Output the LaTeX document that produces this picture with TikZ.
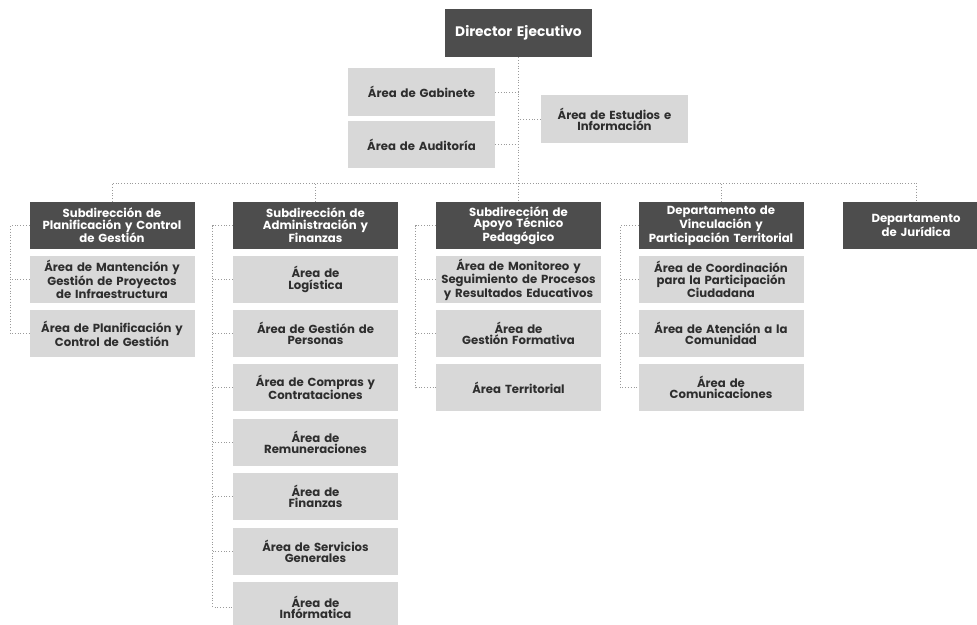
\documentclass[tikz,border=0pt]{standalone}
\usepackage{fontspec}
\setmainfont{Poppins}
\usetikzlibrary{calc}
\definecolor{darkbox}{HTML}{4D4D4D}
\definecolor{lightbox}{HTML}{D8D8D8}
\definecolor{boxtext}{HTML}{2E2E2E}
\definecolor{linecol}{HTML}{9A9A9A}
\tikzset{
  base/.style={rectangle, inner xsep=3pt, inner ysep=0pt, align=center, text width=159pt, minimum height=47pt, font=\bfseries\fontsize{11.7}{11.3}\selectfont},
  hdr/.style={base, fill=darkbox, text=white},
  area/.style={base, fill=lightbox, text=boxtext},
  conn/.style={draw=linecol, line width=0.8pt, dotted},
}
\begin{document}
\begin{tikzpicture}[x=1pt,y=-1pt]
\useasboundingbox (0,0) rectangle (977,624);
\clip (0,0) rectangle (977,624);
% top
\node[hdr, text width=141pt, minimum height=48pt, font=\bfseries\fontsize{13.8}{15}\selectfont] (dir) at (518.5,33) {Director Ejecutivo};
\node[area, text width=141pt, minimum height=48pt] (gab) at (421.5,92) {Área de Gabinete};
\node[area, text width=141pt, minimum height=47pt] (aud) at (421.5,144.5) {Área de Auditoría};
\node[area, text width=141pt, minimum height=48pt] (est) at (614.5,119) {Área de Estudios e\\Información};
% headers
\node[hdr] (h1) at (112,225.5) {Subdirección de\\Planificación y Control\\de Gestión};
\node[hdr] (h2) at (315.5,225.5) {Subdirección de\\Administración y\\Finanzas};
\node[hdr] (h3) at (518.5,225.5) {Subdirección de\\Apoyo Técnico\\Pedagógico};
\node[hdr] (h4) at (721,225.5) {Departamento de\\Vinculación y\\Participación Territorial};
\node[hdr, text width=140pt] (h5) at (916,225.5) {Departamento\\de Jurídica};
% column 1
\node[area] (a11) at (112,279.5) {Área de Mantención y\\Gestión de Proyectos\\de Infraestructura};
\node[area] (a12) at (112,333.5) {Área de Planificación y\\Control de Gestión};
% column 2
\node[area] (a21) at (315.5,279.5) {Área de\\Logística};
\node[area] (a22) at (315.5,333.5) {Área de Gestión de\\Personas};
\node[area] (a23) at (315.5,387.5) {Área de Compras y\\Contrataciones};
\node[area] (a24) at (315.5,442.5) {Área de\\Remuneraciones};
\node[area] (a25) at (315.5,496.5) {Área de\\Finanzas};
\node[area] (a26) at (315.5,551.5) {Área de Servicios\\Generales};
\node[area, minimum height=50pt] (a27) at (315.5,607) {Área de\\Infórmatica};
% column 3
\node[area] (a31) at (518.5,279.5) {Área de Monitoreo y\\Seguimiento de Procesos\\y Resultados Educativos};
\node[area] (a32) at (518.5,333.5) {Área de\\Gestión Formativa};
\node[area] (a33) at (518.5,387.5) {Área Territorial};
% column 4
\node[area] (a41) at (721,279.5) {Área de Coordinación\\para la Participación\\Ciudadana};
\node[area] (a42) at (721,333.5) {Área de Atención a la\\Comunidad};
\node[area] (a43) at (721,387.5) {Área de\\Comunicaciones};
% connectors top
\coordinate (bus) at (518.5,183);
\draw[conn] (dir.south) -- (h3.north);
\draw[conn] (gab.east) -- (gab.east -| dir.south);
\draw[conn] (aud.east) -- (aud.east -| dir.south);
\draw[conn] (est.west) -- (est.west -| dir.south);
\draw[conn] (h1.north) |- (bus) -| (h5.north);
\draw[conn] (h2.north) -- (h2.north |- bus);
\draw[conn] (h4.north) -- (h4.north |- bus);
% column spines
\draw[conn] (h1.west) -- ++(-19,0) coordinate (s1) |- (a12.west);
\draw[conn] (a11.west) -- (a11.west -| s1);
\draw[conn] (h2.west) -- ++(-20,0) coordinate (s2) |- (a27.west);
\foreach \n in {a21,a22,a23,a24,a25,a26} \draw[conn] (\n.west) -- (\n.west -| s2);
\draw[conn] (h3.west) -- ++(-20,0) coordinate (s3) |- (a33.west);
\foreach \n in {a31,a32} \draw[conn] (\n.west) -- (\n.west -| s3);
\draw[conn] (h4.west) -- ++(-18,0) coordinate (s4) |- (a43.west);
\foreach \n in {a41,a42} \draw[conn] (\n.west) -- (\n.west -| s4);
\end{tikzpicture}
\end{document}
